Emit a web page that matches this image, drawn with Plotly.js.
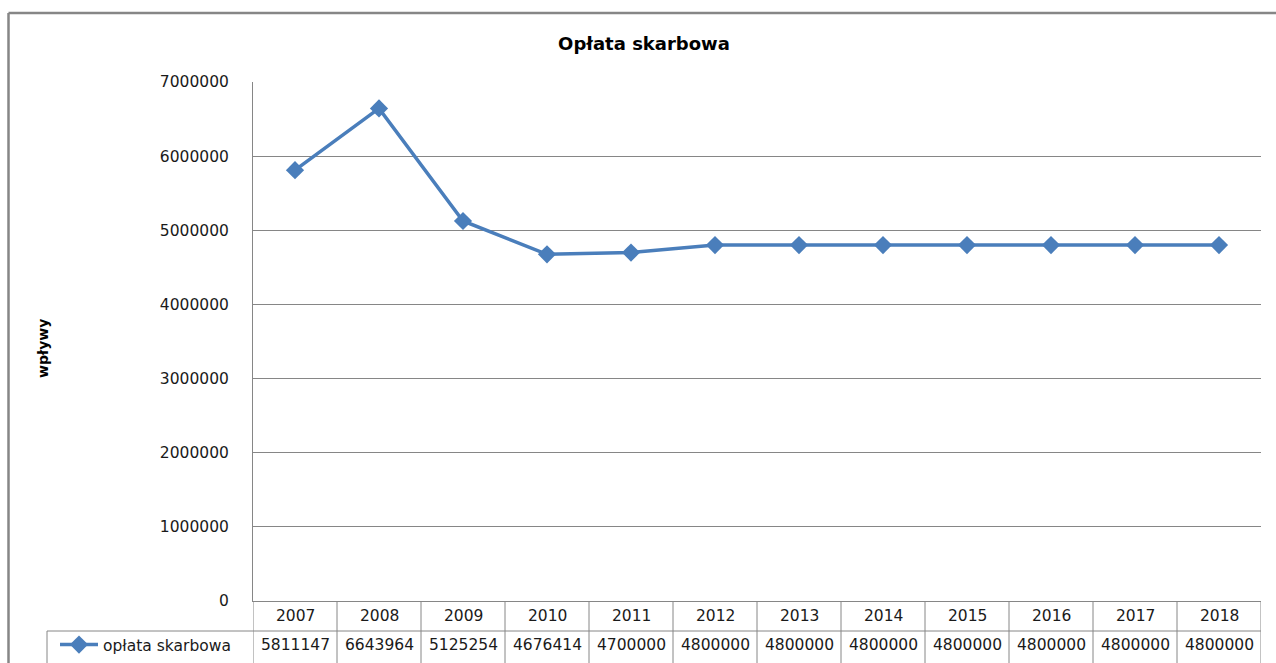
<!DOCTYPE html>
<html>
<head>
<meta charset="utf-8">
<script src="https://cdn.plot.ly/plotly-3.0.1.min.js"></script>
<style>html,body{margin:0;padding:0;background:#fff;}#chart{width:1276px;height:663px;}</style>
</head>
<body>
<div id="chart"></div>
<script>
const years = ["2007","2008","2009","2010","2011","2012","2013","2014","2015","2016","2017","2018"];
const values = [5811147, 6643964, 5125254, 4676414, 4700000, 4800000, 4800000, 4800000, 4800000, 4800000, 4800000, 4800000];
const seriesName = "opłata skarbowa";
const chartTitle = "Opłata skarbowa";
const yTitle = "wpływy";

const FONT = "DejaVu Sans";
const GRAY = "#868686";
const BLUE = "#4a7ebb";

// paper-coordinate helpers (plot area: px 253..1261 horizontally, 82..601 vertically)
const W = 1008, H = 519;
const px = X => (X - 253) / W;
const py = Y => (601 - Y) / H;

const trace = {
  type: "scatter",
  mode: "lines+markers",
  x: years,
  y: values,
  name: seriesName,
  line: {color: BLUE, width: 3.5},
  marker: {symbol: "diamond", size: 14, color: BLUE}
};

const annotations = [];
years.forEach((yr, i) => {
  annotations.push({x: i, xref: "x", y: py(616), yref: "paper", text: yr, showarrow: false,
    xanchor: "center", yanchor: "middle", font: {family: FONT, size: 15.5, color: "#1a1a1a"}});
  annotations.push({x: i, xref: "x", y: py(645), yref: "paper", text: String(values[i]), showarrow: false,
    xanchor: "center", yanchor: "middle", font: {family: FONT, size: 15.5, color: "#1a1a1a"}});
});
annotations.push({x: px(43), xref: "paper", y: py(349), yref: "paper", text: yTitle, textangle: -90,
  showarrow: false, xanchor: "center", yanchor: "middle", font: {family: FONT, size: 14, color: "#000", weight: "bold"}});

const shapes = [];
// table vertical lines at category boundaries
for (let i = 0; i <= years.length; i++) {
  shapes.push({type: "line", xref: "x", yref: "paper", x0: i - 0.5, x1: i - 0.5, y0: 0, y1: py(670),
    line: {color: GRAY, width: 1}});
}
// row separator / legend cell top
shapes.push({type: "line", xref: "paper", yref: "paper", x0: px(47), x1: 1, y0: py(631), y1: py(631), line: {color: GRAY, width: 1}});
// legend cell left border
shapes.push({type: "line", xref: "paper", yref: "paper", x0: px(47), x1: px(47), y0: py(631), y1: py(670), line: {color: GRAY, width: 1}});
// outer chart border
shapes.push({type: "line", xref: "paper", yref: "paper", x0: px(8.5), x1: px(8.5), y0: py(13), y1: py(670), line: {color: GRAY, width: 2.5}});
shapes.push({type: "line", xref: "paper", yref: "paper", x0: px(8.5), x1: px(1290), y0: py(13), y1: py(13), line: {color: GRAY, width: 2.5}});

const layout = {
  width: 1276, height: 663,
  margin: {l: 253, r: 15, t: 82, b: 62, pad: 0, autoexpand: false},
  paper_bgcolor: "#fff", plot_bgcolor: "#fff",
  title: {text: chartTitle, x: 644 / 1276, xref: "container", xanchor: "center",
    y: 1 - 44 / 663, yref: "container", yanchor: "middle",
    font: {family: FONT, size: 18, color: "#000", weight: "bold"}},
  xaxis: {type: "category", range: [-0.5, years.length - 0.5], showticklabels: false, ticks: "",
    showgrid: false, zeroline: false, showline: true, linecolor: GRAY, linewidth: 1, fixedrange: true},
  yaxis: {range: [0, 7000000], dtick: 1000000, tick0: 0, tickformat: "d", showgrid: true, gridcolor: GRAY, gridwidth: 1,
    zeroline: false, showline: true, linecolor: GRAY, linewidth: 1, ticks: "", ticklabelstandoff: 20,
    tickfont: {family: FONT, size: 15.5, color: "#1a1a1a"}, fixedrange: true},
  showlegend: true,
  legend: {x: px(55), xanchor: "left", y: py(645), yanchor: "middle", xref: "paper", yref: "paper",
    bgcolor: "rgba(0,0,0,0)", borderwidth: 0, itemwidth: 38,
    font: {family: FONT, size: 15.5, color: "#1a1a1a"}},
  annotations: annotations,
  shapes: shapes
};

Plotly.newPlot("chart", [trace], layout, {displayModeBar: false, staticPlot: true});
</script>
</body>
</html>
